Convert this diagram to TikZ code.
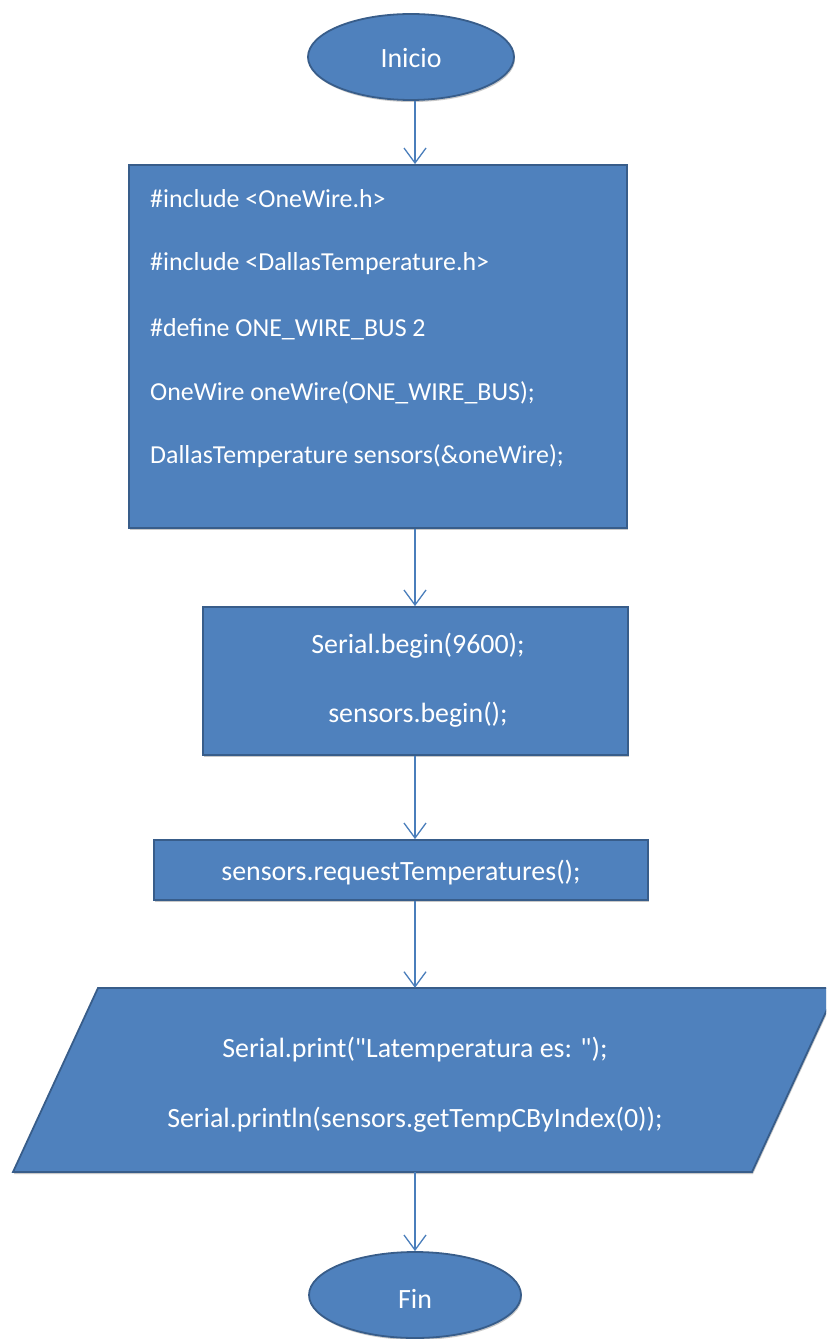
\documentclass[tikz,border=0pt]{standalone}
\usepackage{fontspec}
\setmainfont{Carlito}
\usetikzlibrary{shapes.geometric,arrows.meta,calc,shadows}
\definecolor{boxfill}{HTML}{4F81BD}
\definecolor{boxline}{HTML}{385D8A}
\definecolor{flow}{HTML}{4A7EBB}
\begin{document}
\begin{tikzpicture}[x=1bp,y=-1bp,
  shapebox/.style={draw=boxline, fill=boxfill, line width=1.8bp,
    drop shadow={shadow xshift=1bp, shadow yshift=-2bp, opacity=0.3, fill=black!70}},
  term/.style={shapebox, ellipse, inner sep=0},
  proc/.style={shapebox, rectangle, inner sep=0},
  lbl/.style={text=white, font=\fontsize{28}{30}\selectfont, anchor=base, inner sep=0},
  code/.style={text=white, font=\fontsize{26}{30}\selectfont, anchor=base west, inner sep=0},
  flowarrow/.style={draw=flow, line width=1.3bp, -{Straight Barb[length=15bp,width=22bp]}}]

\useasboundingbox[fill=white] (0,0) rectangle (826,1339);
\coordinate (axis) at (415,0);

% start
\node[term, minimum width=206bp, minimum height=86bp] (inicio) at (411,57) {};
\node[lbl] (inicioT) at (411,68) {Inicio};

% declarations
\node[proc, minimum width=498bp, minimum height=363bp] (setup) at (378,346.5) {};
\node[code] (l1) at (150,208) {\#include <OneWire.h>};
\node[code] (l2) at (150,271) {\#include <DallasTemperature.h>};
\node[code] (l3) at (150,336) {\#define ONE\_WIRE\_BUS 2};
\node[code] (l4) at (150,400) {OneWire oneWire(ONE\_WIRE\_BUS);};
\node[code] (l5) at (150,463) {DallasTemperature sensors(\&oneWire);};

% setup calls
\node[proc, minimum width=425bp, minimum height=148bp] (init) at (415.5,681) {};
\node[lbl] (i1) at (418,653) {Serial.begin(9600);};
\node[lbl] (i2) at (418,722) {sensors.begin();};

% request
\node[proc, minimum width=494bp, minimum height=60bp] (request) at (401,870) {};
\node[lbl] (r1) at (401,880) {sensors.requestTemperatures();};

% output (parallelogram)
\begin{scope}
  \clip (0,0) rectangle (826,1339);
  \draw[shapebox] (98,988) -- (837,988) -- (752,1172) -- (13,1172) -- cycle;
\end{scope}
\node[minimum width=740bp, minimum height=184bp, inner sep=0] (out) at (425,1080) {};
\node[lbl] (o1) at (415,1057) {Serial.print(\textquotedbl Latemperatura es: \textquotedbl);};
\node[lbl] (o2) at (415,1127) {Serial.println(sensors.getTempCByIndex(0));};

% end
\node[term, minimum width=212bp, minimum height=86bp] (fin) at (415,1295) {};
\node[lbl] (finT) at (415,1308) {Fin};

% flow
\draw[flowarrow] (inicio.south -| axis) -- (setup.north -| axis);
\draw[flowarrow] (setup.south -| axis) -- (init.north -| axis);
\draw[flowarrow] (init.south -| axis) -- (request.north -| axis);
\draw[flowarrow] (request.south -| axis) -- (out.north -| axis);
\draw[flowarrow] (out.south -| axis) -- (fin.north -| axis);
\end{tikzpicture}
\end{document}
